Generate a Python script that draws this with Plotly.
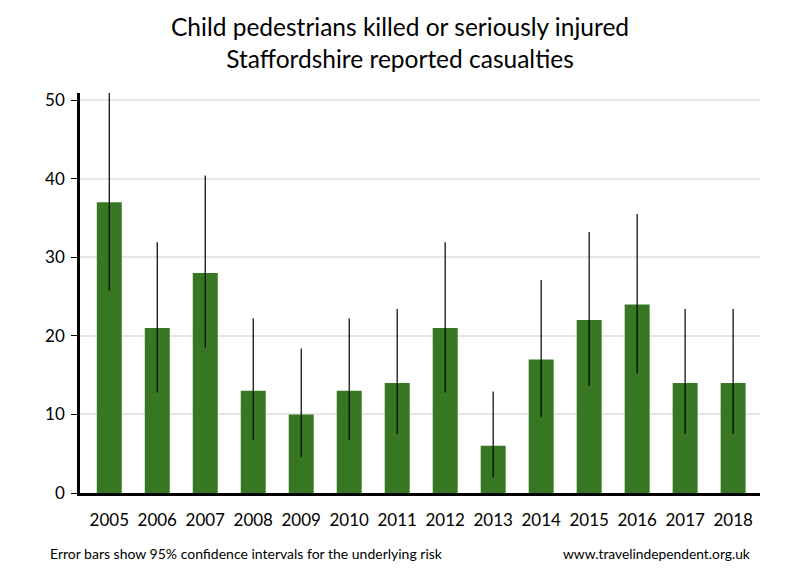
import plotly.graph_objects as go

years = ["2005", "2006", "2007", "2008", "2009", "2010", "2011", "2012", "2013", "2014", "2015", "2016", "2017", "2018"]
casualties = [37, 21, 28, 13, 10, 13, 14, 21, 6, 17, 22, 24, 14, 14]
ci_upper = [50.9, 31.9, 40.4, 22.2, 18.4, 22.2, 23.4, 31.9, 12.9, 27.1, 33.2, 35.5, 23.4, 23.4]
ci_lower = [25.8, 12.8, 18.5, 6.7, 4.6, 6.7, 7.5, 12.8, 2.0, 9.7, 13.6, 15.2, 7.5, 7.5]

err_plus = [u - v for u, v in zip(ci_upper, casualties)]
err_minus = [v - l for v, l in zip(casualties, ci_lower)]

fig = go.Figure()
fig.add_trace(go.Bar(
    x=list(range(len(years))), y=casualties,
    marker=dict(color="#377622", line=dict(width=0)),
    width=0.52,
    error_y=dict(type="data", symmetric=False, array=err_plus, arrayminus=err_minus,
                 color="black", thickness=1.2, width=0),
))

font_family = "Lato, Carlito, 'Open Sans', sans-serif"
fig.update_layout(
    width=800, height=580,
    margin=dict(l=72, r=48, t=85, b=95),
    paper_bgcolor="white", plot_bgcolor="white",
    showlegend=False,
    font=dict(family=font_family, color="black"),
    title=dict(text="Child pedestrians killed or seriously injured<br>Staffordshire reported casualties",
               x=0.49, xanchor="center", y=0.951, yanchor="top",
               font=dict(size=24.5, family=font_family, color="black")),
    xaxis=dict(range=[-0.61, 13.56], tickmode="array", tickvals=list(range(len(years))),
               ticktext=years, showline=True, linecolor="black", linewidth=2.5,
               showgrid=False, ticks="", tickfont=dict(size=17), zeroline=False,
               ticklabelstandoff=10),
    yaxis=dict(range=[0, 50.9], tickvals=[0, 10, 20, 30, 40, 50], showline=True,
               linecolor="black", linewidth=2.5, showgrid=True, gridcolor="#e6e6e6",
               gridwidth=1.5, ticks="outside", ticklen=6, tickcolor="black",
               tickfont=dict(size=17), zeroline=False, ticklabelstandoff=3),
    annotations=[
        dict(text="Error bars show 95% confidence intervals for the underlying risk",
             xref="paper", yref="paper", x=-0.047, y=-0.15, xanchor="left", yanchor="middle",
             showarrow=False, font=dict(size=14, family=font_family)),
        dict(text="www.travelindependent.org.uk",
             xref="paper", yref="paper", x=0.988, y=-0.15, xanchor="right", yanchor="middle",
             showarrow=False, font=dict(size=13.8, family=font_family)),
    ],
)

fig.write_html("out.html")
